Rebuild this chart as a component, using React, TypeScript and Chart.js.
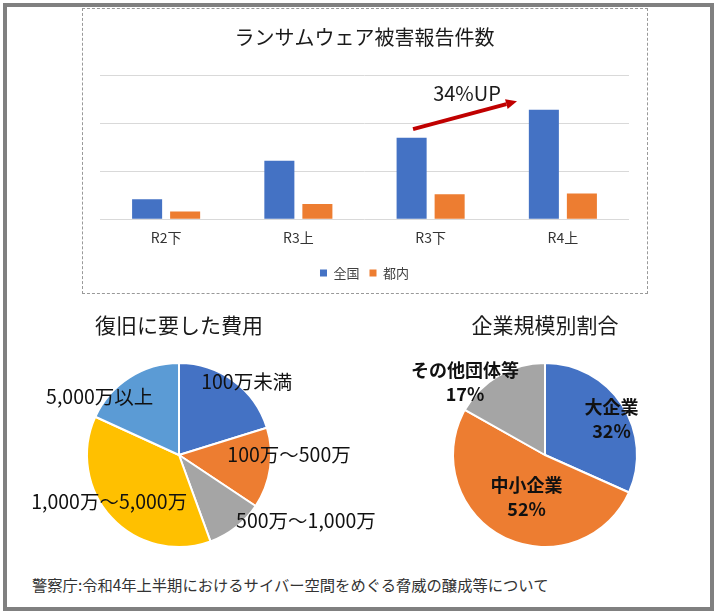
import React, { useEffect, useRef } from "react";
import { Chart, registerables } from "chart.js";

Chart.register(...registerables);

const FONT = "'Noto Sans CJK JP', 'Noto Sans', sans-serif";

// ---- Bar chart data ----
const barTitle = "ランサムウェア被害報告件数";
const barCategories = ["R2下", "R3上", "R3下", "R4上"];
const seriesNames = ["全国", "都内"];
const nationwide = [21, 61, 85, 114];
const tokyo = [8, 16, 26, 27];
const yMax = 150;
const yStep = 50;
const growthText = "34%UP";
const arrowFrom = [1.867, 94]; // [category position, value]
const arrowTo = [2.653, 123];
const growthTextAt = [2.275, 131.5];

// ---- Pie 1 data ----
const costTitle = "復旧に要した費用";
const costLabels = ["100万未満", "100万～500万", "500万～1,000万", "1,000万～5,000万", "5,000万以上"];
const costShares = [20, 14, 10, 37, 18];

// ---- Pie 2 data ----
const sizeTitle = "企業規模別割合";
const sizeLabels = ["大企業", "中小企業", "その他団体等"];
const sizeShares = [32, 52, 17];

const sourceText = "警察庁:令和4年上半期におけるサイバー空間をめぐる脅威の醸成等について";

// ---- layout / style constants ----
const BLUE = "#4472C4";
const ORANGE = "#ED7D31";
const GREY = "#A5A5A5";
const YELLOW = "#FFC000";
const LIGHTBLUE = "#5B9BD5";
const costColors = [BLUE, ORANGE, GREY, YELLOW, LIGHTBLUE];
const sizeColors = [BLUE, ORANGE, GREY];
// label centres relative to pie centre, in units of radius
const costLabelPos = [[0.736, -0.797], [1.196, 0.0], [1.38, 0.717], [-0.759, 0.508], [-0.862, -0.634]];
const sizeLabelPos = [[0.723, -0.386], [-0.2, 0.457], [-0.87, -0.79]];

function pieLabelPlugin(lines: string[][], pos: number[][], font: string, gap: number) {
  return {
    id: "pieLabels",
    afterDatasetsDraw(chart: any) {
      const meta = chart.getDatasetMeta(0);
      const arc = meta.data[0];
      if (!arc) return;
      const { x, y, outerRadius } = arc.getProps(["x", "y", "outerRadius"], true);
      const ctx = chart.ctx;
      ctx.save();
      ctx.font = font;
      ctx.fillStyle = "#111111";
      ctx.textAlign = "center";
      ctx.textBaseline = "middle";
      lines.forEach((ls, i) => {
        const cx = x + pos[i][0] * outerRadius;
        const cy = y + pos[i][1] * outerRadius;
        ls.forEach((t, j) => {
          ctx.fillText(t, cx, cy + (j - (ls.length - 1) / 2) * gap);
        });
      });
      ctx.restore();
    },
  };
}

const arrowPlugin = {
  id: "growthArrow",
  afterDatasetsDraw(chart: any) {
    const xs = chart.scales.x;
    const ys = chart.scales.y;
    const x1 = xs.getPixelForValue(arrowFrom[0]);
    const y1 = ys.getPixelForValue(arrowFrom[1]);
    const x2 = xs.getPixelForValue(arrowTo[0]);
    const y2 = ys.getPixelForValue(arrowTo[1]);
    const ctx = chart.ctx;
    const ang = Math.atan2(y2 - y1, x2 - x1);
    const headLen = 11;
    const headHalf = 5;
    const bx = x2 - Math.cos(ang) * headLen;
    const by = y2 - Math.sin(ang) * headLen;
    ctx.save();
    ctx.strokeStyle = "#C00000";
    ctx.fillStyle = "#C00000";
    ctx.lineWidth = 4;
    ctx.beginPath();
    ctx.moveTo(x1, y1);
    ctx.lineTo(bx, by);
    ctx.stroke();
    ctx.beginPath();
    ctx.moveTo(x2, y2);
    ctx.lineTo(bx + Math.sin(ang) * headHalf, by - Math.cos(ang) * headHalf);
    ctx.lineTo(bx - Math.sin(ang) * headHalf, by + Math.cos(ang) * headHalf);
    ctx.closePath();
    ctx.fill();
    ctx.font = "20px " + FONT;
    ctx.fillStyle = "#1a1a1a";
    ctx.textAlign = "center";
    ctx.textBaseline = "middle";
    ctx.fillText(growthText, xs.getPixelForValue(growthTextAt[0]), ys.getPixelForValue(growthTextAt[1]));
    ctx.restore();
  },
};

export default function App() {
  const barRef = useRef<HTMLCanvasElement>(null);
  const pie1Ref = useRef<HTMLCanvasElement>(null);
  const pie2Ref = useRef<HTMLCanvasElement>(null);

  useEffect(() => {
    const charts: Chart[] = [];
    if (barRef.current) {
      charts.push(
        new Chart(barRef.current, {
          type: "bar",
          data: {
            labels: barCategories,
            datasets: [
              { label: seriesNames[0], data: nationwide, backgroundColor: BLUE, barPercentage: 0.79, categoryPercentage: 0.575 },
              { label: seriesNames[1], data: tokyo, backgroundColor: ORANGE, barPercentage: 0.79, categoryPercentage: 0.575 },
            ],
          },
          options: {
            responsive: false,
            maintainAspectRatio: false,
            animation: false,
            layout: { padding: { left: 17, right: 18, top: 0, bottom: 3.5 } },
            plugins: {
              title: {
                display: true,
                text: barTitle,
                color: "#1a1a1a",
                font: { family: FONT, size: 20, weight: "normal" },
                padding: { top: 16.5, bottom: 25.8 },
              },
              legend: {
                display: true,
                position: "bottom",
                labels: {
                  boxWidth: 7,
                  boxHeight: 7,
                  padding: 10,
                  color: "#404040",
                  font: { family: FONT, size: 13 },
                },
              },
              tooltip: { enabled: false },
            },
            scales: {
              x: {
                grid: { display: false, drawTicks: false },
                border: { display: false },
                ticks: { color: "#333333", font: { family: FONT, size: 14 }, padding: 10 },
                afterFit: (s: any) => {
                  s.height = 37.2;
                },
              },
              y: {
                min: 0,
                max: yMax,
                ticks: { display: false, stepSize: yStep },
                grid: { color: "#D9D9D9", drawTicks: false, lineWidth: 1 },
                border: { display: false },
                afterFit: (s: any) => {
                  s.width = 0;
                },
              },
            },
          },
          plugins: [arrowPlugin],
        } as any)
      );
    }
    if (pie1Ref.current) {
      charts.push(
        new Chart(pie1Ref.current, {
          type: "pie",
          data: {
            labels: costLabels,
            datasets: [{ data: costShares, backgroundColor: costColors, borderColor: "#ffffff", borderWidth: 2 }],
          },
          options: {
            responsive: false,
            maintainAspectRatio: false,
            animation: false,
            layout: { padding: { left: 86, right: 128, top: 0, bottom: 12 } },
            plugins: {
              legend: { display: false },
              tooltip: { enabled: false },
              title: {
                display: true,
                text: costTitle,
                color: "#1a1a1a",
                font: { family: FONT, size: 21, weight: "normal" },
                padding: { top: 12.4, bottom: 24.4 },
              },
            },
          },
          plugins: [pieLabelPlugin(costLabels.map((l) => [l]), costLabelPos, "19.5px " + FONT, 24)],
        } as any)
      );
    }
    if (pie2Ref.current) {
      charts.push(
        new Chart(pie2Ref.current, {
          type: "pie",
          data: {
            labels: sizeLabels,
            datasets: [{ data: sizeShares, backgroundColor: sizeColors, borderColor: "#ffffff", borderWidth: 2 }],
          },
          options: {
            responsive: false,
            maintainAspectRatio: false,
            animation: false,
            layout: { padding: { left: 92, right: 72, top: 0, bottom: 12 } },
            plugins: {
              legend: { display: false },
              tooltip: { enabled: false },
              title: {
                display: true,
                text: sizeTitle,
                color: "#1a1a1a",
                font: { family: FONT, size: 21, weight: "normal" },
                padding: { top: 12.4, bottom: 24.4 },
              },
            },
          },
          plugins: [
            pieLabelPlugin(
              sizeLabels.map((l, i) => [l, sizeShares[i] + "%"]),
              sizeLabelPos,
              "bold 18px " + FONT,
              24
            ),
          ],
        } as any)
      );
    }
    return () => charts.forEach((c) => c.destroy());
  }, []);

  return (
    <div style={{ position: "absolute", left: 0, top: 0, width: 715, height: 612, background: "#ffffff", overflow: "hidden" }}>
      <div
        style={{
          position: "absolute",
          left: 3,
          top: 3,
          width: 711,
          height: 608,
          boxSizing: "border-box",
          border: "4px solid #808080",
        }}
      />
      <div
        style={{
          position: "absolute",
          left: 82,
          top: 8,
          width: 564,
          height: 284,
          border: "1px dashed #999999",
        }}
      >
        <canvas ref={barRef} width={564} height={284} style={{ display: "block", width: 564, height: 284 }} />
      </div>
      <canvas ref={pie2Ref} width={350} height={260} style={{ position: "absolute", left: 360, top: 300, width: 350, height: 260 }} />
      <canvas ref={pie1Ref} width={400} height={260} style={{ position: "absolute", left: 0, top: 300, width: 400, height: 260 }} />
      <div
        style={{
          position: "absolute",
          left: 32,
          top: 574,
          fontFamily: FONT,
          fontSize: 15.3,
          lineHeight: "20px",
          color: "#333333",
          whiteSpace: "nowrap",
        }}
      >
        {sourceText}
      </div>
    </div>
  );
}
